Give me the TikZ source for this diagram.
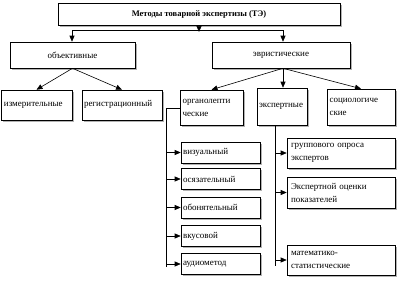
\documentclass[tikz,border=0pt]{standalone}
\usepackage{fontspec}
\setmainfont{Liberation Serif}
\usetikzlibrary{arrows.meta,shadows}
\begin{document}
\begin{tikzpicture}[x=1pt,y=-1pt,
  box/.style={draw=black,line width=0.6pt,fill=white,inner sep=0pt,
    font=\fontsize{9}{13}\selectfont,
    drop shadow={shadow xshift=1.5pt,shadow yshift=-1.5pt,fill=black!30,opacity=1}},
  lbox/.style={box,align=left},
  cbox/.style={box,align=center},
  con/.style={line width=0.6pt},
  arr/.style={con,-{Triangle[length=6pt,width=5pt]}}]
\useasboundingbox (0,0) rectangle (401,287);
\fill[white] (0,0) rectangle (401,287);
% top
\node[cbox,minimum width=282pt,minimum height=22pt,font=\fontsize{8.5}{12}\selectfont\bfseries] (top) at (199,14) {Методы товарной экспертизы (ТЭ)};
\node[cbox,minimum width=125pt,minimum height=26pt] (obj) at (72.5,55) {объективные};
\node[cbox,minimum width=138pt,minimum height=26pt] (eur) at (281,55) {эвристические};
% level 3 left
\node[lbox,minimum width=71pt,minimum height=30pt,text width=65pt] (izm) at (36.5,105) {измерительные};
\node[lbox,minimum width=80pt,minimum height=30pt,text width=76pt] (reg) at (122,105) {\raisebox{4pt}{регистрационный}};
% level 3 right
\node[lbox,minimum width=63pt,minimum height=35pt,text width=58pt] (org) at (211.5,107.5) {органолепти\\ческие};
\node[lbox,minimum width=50pt,minimum height=37pt,text width=46pt] (exp) at (282,106.5) {экспертные};
\node[lbox,minimum width=68pt,minimum height=36pt,text width=63pt] (soc) at (361,107) {социологиче\\ские};
% organoleptic subs
\foreach \n/\t/\yc in {viz/визуальный/152.5, osy/осязательный/179, obo/обонятельный/207.5, vku/вкусовой/236, aud/аудиометод/264}{
  \node[lbox,minimum width=79pt,minimum height=21pt,text width=75pt] (\n) at (220.5,\yc) {\t};
}
% expert subs
\node[lbox,minimum width=108pt,minimum height=30pt,text width=100pt] (grp) at (341,153) {группового опроса\\экспертов};
\node[lbox,minimum width=108pt,minimum height=31pt,text width=100pt] (ocn) at (341,192.5) {Экспертной оценки\\показателей};
\node[lbox,minimum width=108pt,minimum height=30pt,text width=100pt] (mat) at (341,260) {математико-\\статистические};
% connectors
\coordinate (jl) at (72,30);
\coordinate (jr) at (283,30);
\draw[con] (jl) -- (jr);
\draw[arr] (top.south) -- (199,32);
\draw[arr] (jl) -- (obj.north -| jl);
\draw[arr] (jr) -- (eur.north -| jr);
\draw[arr] (obj.south) -- (izm.north);
\draw[arr] (obj.south) -- (reg.north);
\draw[arr] (eur.south -| jr) -- (org.north);
\draw[arr] (eur.south -| jr) -- (exp.north -| jr);
\draw[arr] (eur.south -| jr) -- (soc.north);
% organoleptic bracket
\coordinate (ol) at (166,108);
\coordinate (olb) at (166,267);
\draw[con] (org.west |- ol) -- (ol) -- (olb);
\foreach \n in {viz,osy,obo,vku,aud}{
  \draw[arr] (\n.west -| ol) -- (\n.west);
}
% expert bracket
\coordinate (ex) at (275,125);
\coordinate (exb) at (275,266);
\draw[con] (exp.south -| ex) -- (exb);
\draw[arr] (grp.west -| ex) -- (grp.west);
\draw[arr] (ocn.west -| ex) -- (ocn.west);
\draw[arr] (mat.west -| ex) -- (mat.west);
\end{tikzpicture}
\end{document}
